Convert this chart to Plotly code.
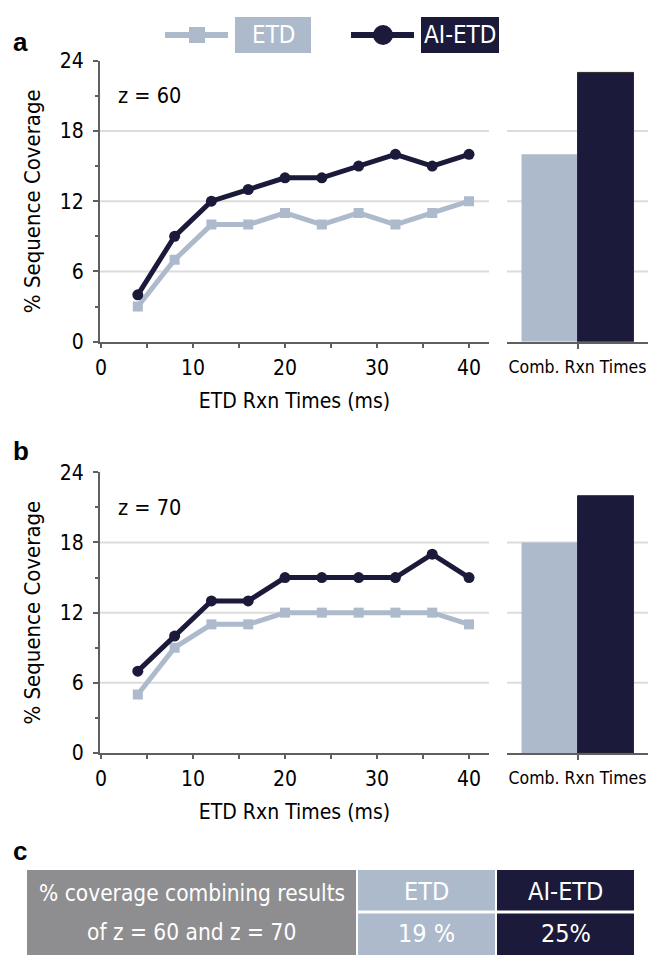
import plotly.graph_objects as go

# ---------------- data ----------------
rxn_times = [4, 8, 12, 16, 20, 24, 28, 32, 36, 40]
etd_z60 = [3, 7, 10, 10, 11, 10, 11, 10, 11, 12]
aietd_z60 = [4, 9, 12, 13, 14, 14, 15, 16, 15, 16]
etd_z70 = [5, 9, 11, 11, 12, 12, 12, 12, 12, 11]
aietd_z70 = [7, 10, 13, 13, 15, 15, 15, 15, 17, 15]
comb_category = ["Comb. Rxn Times"]
comb_etd = [16, 18]      # z=60, z=70
comb_aietd = [23, 22]
y_ticks = [0, 6, 12, 18, 24]
y_minor = [3, 9, 15, 21]
y_grid = [6, 12, 18]
x_ticks = [0, 10, 20, 30, 40]
x_minor = [5, 15, 25, 35]
charge_labels = ["z = 60", "z = 70"]
table_title = ["% coverage combining results", "of z = 60 and z = 70"]
table_methods = ["ETD", "AI-ETD"]
table_values = ["19 %", "25%"]

# ---------------- style ----------------
W, H = 650, 960
C_ETD = "#adbacc"
C_AI = "#1b1a3b"
C_GREY = "#8e8e90"
C_AX = "#5f5f5f"
C_GRID = "#dcdcdc"
FONT = "DejaVu Sans Condensed, Liberation Sans Narrow, DejaVu Sans, sans-serif"
BOLD = "Liberation Sans, Arial, sans-serif"


def X(px):
    return px / W


def Y(py):
    return 1 - py / H


def note(x, y, text, size, color="black", family=FONT, xanchor="center", xref="paper", yref="paper"):
    fig.add_annotation(x=x, y=y, xref=xref, yref=yref, text=text, showarrow=False,
                       xanchor=xanchor, yanchor="middle",
                       font=dict(family=family, size=size, color=color))


fig = go.Figure()

panels = [
    dict(etd=etd_z60, ai=aietd_z60, top=60.7, bot=341.7, label="a", lab_y=42),
    dict(etd=etd_z70, ai=aietd_z70, top=472.3, bot=753.0, label="b", lab_y=451),
]

layout_axes = {}
for i, p in enumerate(panels):
    lx = "x" if i == 0 else "x3"
    ly = "y" if i == 0 else "y3"
    bx = "x2" if i == 0 else "x4"
    by = "y2" if i == 0 else "y4"
    dom_y = [Y(p["bot"]), Y(p["top"])]

    fig.add_trace(go.Scatter(
        x=rxn_times, y=p["etd"], mode="lines+markers", xaxis=lx, yaxis=ly,
        line=dict(color=C_ETD, width=5),
        marker=dict(symbol="square", size=10, color=C_ETD),
        showlegend=False, name="ETD"))
    fig.add_trace(go.Scatter(
        x=rxn_times, y=p["ai"], mode="lines+markers", xaxis=lx, yaxis=ly,
        line=dict(color=C_AI, width=5),
        marker=dict(symbol="circle", size=11, color=C_AI),
        showlegend=False, name="AI-ETD"))
    fig.add_trace(go.Bar(
        x=comb_category, y=[comb_etd[i]], xaxis=bx, yaxis=by,
        marker=dict(color=C_ETD, line=dict(width=0)), offsetgroup="etd",
        showlegend=False, name="ETD"))
    fig.add_trace(go.Bar(
        x=comb_category, y=[comb_aietd[i]], xaxis=bx, yaxis=by,
        marker=dict(color=C_AI, line=dict(width=1, color="#2a2a2a")), offsetgroup="ai",
        showlegend=False, name="AI-ETD"))

    ka = "" if i == 0 else "3"
    kb = "2" if i == 0 else "4"
    layout_axes["xaxis" + ka] = dict(
        domain=[X(100), X(489)], anchor=ly, range=[-0.11, 42.17], automargin=False,
        tickvals=x_ticks, ticks="outside", ticklen=4, tickwidth=2, tickcolor=C_AX,
        minor=dict(tickvals=x_minor, ticks="outside", ticklen=4, tickwidth=2, tickcolor=C_AX),
        showline=True, linecolor=C_AX, linewidth=2, showgrid=False, zeroline=False,
        tickfont=dict(family=FONT, size=21, color="black"), ticklabelstandoff=2,
        title=dict(text="ETD Rxn Times (ms)", font=dict(family=FONT, size=21, color="black"),
                   standoff=14))
    layout_axes["yaxis" + ka] = dict(
        domain=dom_y, anchor=lx, range=[0, 24], automargin=False,
        tickvals=y_ticks, ticks="outside", ticklen=5, tickwidth=2, tickcolor=C_AX,
        minor=dict(tickvals=y_minor, ticks="outside", ticklen=3, tickwidth=2, tickcolor=C_AX),
        showline=True, linecolor=C_AX, linewidth=2, showgrid=False, zeroline=False,
        tickfont=dict(family=FONT, size=21, color="black"), ticklabelstandoff=5,
        title=dict(text="% Sequence Coverage", font=dict(family=FONT, size=22, color="black"),
                   standoff=13))
    layout_axes["xaxis" + kb] = dict(
        domain=[X(507), X(648)], anchor=by, type="category", automargin=False,
        ticks="outside", ticklen=5, tickwidth=2, tickcolor=C_AX,
        showline=True, linecolor=C_AX, linewidth=2, showgrid=False,
        tickfont=dict(family=FONT, size=17.5, color="black"), ticklabelstandoff=3)
    layout_axes["yaxis" + kb] = dict(
        domain=dom_y, anchor=bx, range=[0, 24], showticklabels=False, automargin=False,
        showline=False, showgrid=False, zeroline=False, ticks="")

    # gridlines
    for gv in y_grid:
        fig.add_shape(type="line", xref=lx + " domain", yref=ly, x0=0, x1=1, y0=gv, y1=gv,
                      line=dict(color=C_GRID, width=2), layer="below")
        fig.add_shape(type="line", xref=bx + " domain", yref=by, x0=0, x1=1, y0=gv, y1=gv,
                      line=dict(color=C_GRID, width=2), layer="below")

    # charge-state label
    note(1.6, 21, charge_labels[i], 21.5, xanchor="left", xref=lx, yref=ly)
    # panel letter
    note(X(11), Y(p["lab_y"]), "<b>%s</b>" % p["label"], 26, family=BOLD, xanchor="left")

# ---------------- custom legend ----------------
leg_y = 35
fig.add_shape(type="line", xref="paper", yref="paper", x0=X(165), x1=X(228), y0=Y(leg_y), y1=Y(leg_y),
              line=dict(color=C_ETD, width=6))
fig.add_shape(type="rect", xref="paper", yref="paper", x0=X(189), x1=X(205), y0=Y(leg_y + 8), y1=Y(leg_y - 8),
              fillcolor=C_ETD, line=dict(width=0))
fig.add_shape(type="rect", xref="paper", yref="paper", x0=X(235), x1=X(311), y0=Y(53), y1=Y(17),
              fillcolor=C_ETD, line=dict(width=0))
note(X(273), Y(leg_y), table_methods[0], 24, color="white")
fig.add_shape(type="line", xref="paper", yref="paper", x0=X(351), x1=X(414), y0=Y(leg_y), y1=Y(leg_y),
              line=dict(color=C_AI, width=6))
fig.add_shape(type="circle", xref="paper", yref="paper", x0=X(373), x1=X(393), y0=Y(leg_y + 10), y1=Y(leg_y - 10),
              fillcolor=C_AI, line=dict(width=0))
fig.add_shape(type="rect", xref="paper", yref="paper", x0=X(421), x1=X(499), y0=Y(53), y1=Y(17),
              fillcolor=C_AI, line=dict(width=0))
note(X(460), Y(leg_y), table_methods[1], 24, color="white")

# ---------------- panel c table ----------------
note(X(11), Y(851), "<b>c</b>", 26, family=BOLD, xanchor="left")
t_top, t_mid1, t_mid2, t_bot = 870, 910.5, 913.5, 955
fig.add_shape(type="rect", xref="paper", yref="paper", x0=X(27), x1=X(356), y0=Y(t_bot), y1=Y(t_top),
              fillcolor=C_GREY, line=dict(width=0))
note(X(191.5), Y(893), table_title[0], 22.5, color="white")
note(X(191.5), Y(932), table_title[1], 22.5, color="white")
cols = [(358, 495, C_ETD), (497, 634, C_AI)]
for j, (x0, x1, col) in enumerate(cols):
    fig.add_shape(type="rect", xref="paper", yref="paper", x0=X(x0), x1=X(x1), y0=Y(t_mid1), y1=Y(t_top),
                  fillcolor=col, line=dict(width=0))
    fig.add_shape(type="rect", xref="paper", yref="paper", x0=X(x0), x1=X(x1), y0=Y(t_bot), y1=Y(t_mid2),
                  fillcolor=col, line=dict(width=0))
    note(X((x0 + x1) / 2), Y(891), table_methods[j], 25, color="white")
    note(X((x0 + x1) / 2), Y(933), table_values[j], 25, color="white")

fig.update_layout(
    width=W, height=H, margin=dict(l=0, r=0, t=0, b=0, pad=0, autoexpand=False),
    paper_bgcolor="white", plot_bgcolor="white",
    barmode="group", bargap=0.206, bargroupgap=0,
    showlegend=False,
    **layout_axes,
)

fig.write_html("out.html")
